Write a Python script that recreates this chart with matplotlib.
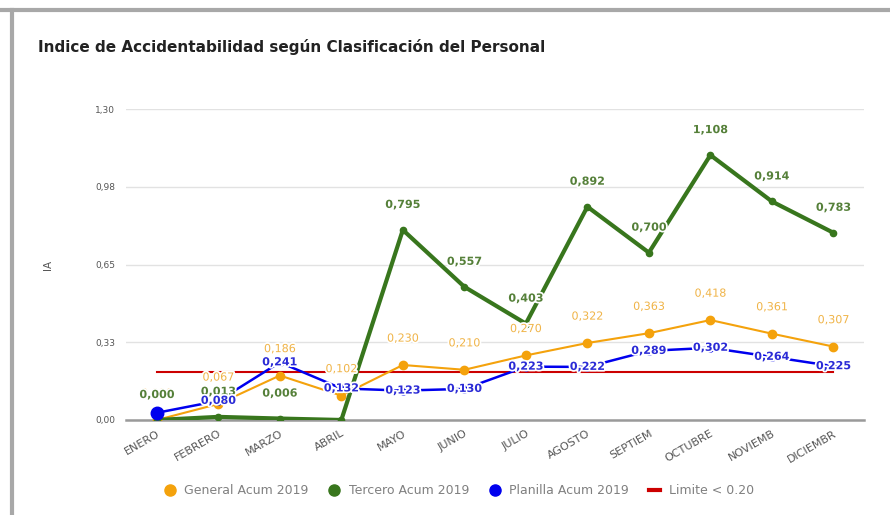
import numpy as np
import matplotlib.pyplot as plt
import matplotlib.patheffects as pe
from matplotlib.lines import Line2D

meses = ['ENERO', 'FEBRERO', 'MARZO', 'ABRIL', 'MAYO', 'JUNIO', 'JULIO',
         'AGOSTO', 'SEPTIEM', 'OCTUBRE', 'NOVIEMB', 'DICIEMBR']
general = [0.000, 0.067, 0.186, 0.102, 0.230, 0.210, 0.270, 0.322, 0.363, 0.418, 0.361, 0.307]
tercero = [0.000, 0.013, 0.006, 0.000, 0.795, 0.557, 0.403, 0.892, 0.700, 1.108, 0.914, 0.783]
planilla = [0.030, 0.080, 0.241, 0.132, 0.123, 0.130, 0.223, 0.222, 0.289, 0.302, 0.264, 0.225]
limite = [0.20] * 12
# labels that are hidden in the original are None
general_lbl = ['0,000', '0,067', '0,186', '0,102', '0,230', '0,210', '0,270', '0,322', '0,363', '0,418', '0,361', '0,307']
tercero_lbl = ['0,000', '0,013', '0,006', None, '0,795', '0,557', '0,403', '0,892', '0,700', '1,108', '0,914', '0,783']
planilla_lbl = [None, '0,080', '0,241', '0,132', '0,123', '0,130', '0,223', '0,222', '0,289', '0,302', '0,264', '0,225']
yticks = [0, 0.325, 0.65, 0.975, 1.30]
ytick_lbl = ['0,00', '0,33', '0,65', '0,98', '1,30']

c_gen, c_ter, c_pla, c_lim = '#f4a20c', '#38761d', '#0000ee', '#cc0000'

fig = plt.figure(figsize=(8.9, 5.15), dpi=100)
ax = fig.add_axes([0.1416, 0.1845, 0.8294, 0.6035])
x = np.arange(len(meses))

ax.plot(x, limite, color=c_lim, lw=1.5, zorder=2)
ax.plot(x, general, color=c_gen, lw=1.5, marker='o', ms=6, zorder=3)
ax.plot(x, tercero, color=c_ter, lw=3, marker='o', ms=4.5, zorder=4)
ax.plot(x, planilla, color=c_pla, lw=1.8, marker='o', ms=5, zorder=5)
ax.plot(x[:1], planilla[:1], color=c_pla, marker='o', ms=9, zorder=5)

halo = [pe.withStroke(linewidth=2.5, foreground='white')]
for xi, v, t in zip(x, general, general_lbl):
    if t:
        ax.annotate(t, (xi, v), xytext=(0, 19), textcoords='offset points', ha='center', va='center',
                    fontsize=8, color='#f0b448', path_effects=halo, zorder=6)
for xi, v, t in zip(x, tercero, tercero_lbl):
    if t:
        ax.annotate(t, (xi, v), xytext=(0, 18), textcoords='offset points', ha='center', va='center',
                    fontsize=8, fontweight='bold', color='#558039', path_effects=halo, zorder=7)
for xi, v, t in zip(x, planilla, planilla_lbl):
    if t:
        ax.annotate(t, (xi, v), xytext=(0, 0), textcoords='offset points', ha='center', va='center',
                    fontsize=8, fontweight='bold', color='#2b2bd6', path_effects=halo, zorder=8)

ax.set_xlim(-0.5, 11.5)
ax.set_ylim(0, 1.30)
ax.set_yticks(yticks)
ax.set_yticklabels(ytick_lbl, fontsize=6.5, color='#555555')
ax.set_xticks(x)
ax.set_xticklabels(meses, rotation=30, ha='right', rotation_mode='anchor', fontsize=8, color='#555555')
ax.tick_params(length=0, pad=6)
ax.tick_params(axis='y', pad=8)
ax.grid(axis='y', color='#e2e2e2', lw=1)
ax.set_axisbelow(True)
for s in ['top', 'right', 'left']:
    ax.spines[s].set_visible(False)
ax.spines['bottom'].set_color('#9a9a9a')
ax.spines['bottom'].set_linewidth(1.8)
ax.set_ylabel('IA', fontsize=7.5, color='#555555', labelpad=30)

fig.text(38 / 890, 1 - 47 / 515, 'Indice de Accidentabilidad según Clasificación del Personal',
         fontsize=11, fontweight='bold', color='#222222', va='center')

handles = [
    Line2D([], [], ls='', marker='o', ms=8, color=c_gen),
    Line2D([], [], ls='', marker='o', ms=8, color=c_ter),
    Line2D([], [], ls='', marker='o', ms=8, color=c_pla),
    Line2D([], [], color=c_lim, lw=3),
]
names = ['General Acum 2019', 'Tercero Acum 2019', 'Planilla Acum 2019', 'Limite < 0.20']
leg = fig.legend(handles, names, loc='center', bbox_to_anchor=(459 / 890, 1 - 491 / 515), ncol=4,
                 frameon=False, fontsize=9, handlelength=0.9, columnspacing=1.6, handletextpad=0.7)
for t in leg.get_texts():
    t.set_color('#808080')

# screenshot frame on top and left
fig.add_artist(Line2D([0, 1], [1 - 10 / 515] * 2, color='#a8a8a8', lw=3))
fig.add_artist(Line2D([12 / 890] * 2, [0, 1 - 10 / 515], color='#a8a8a8', lw=3))

fig.savefig('out.png', dpi=100)
